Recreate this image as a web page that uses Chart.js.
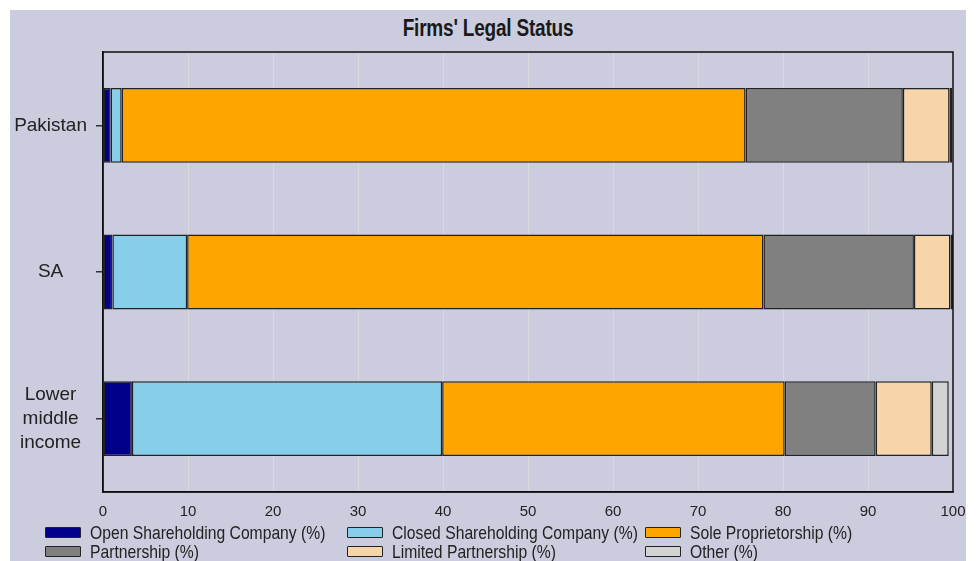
<!DOCTYPE html>
<html>
<head>
<meta charset="utf-8">
<script src="https://cdn.jsdelivr.net/npm/chart.js@4"></script>
<style>
  html, body { margin: 0; padding: 0; background: #ffffff; width: 976px; height: 561px; overflow: hidden; }
  #panel { position: absolute; left: 10px; top: 10px; width: 956px; height: 551px; background: #CBCCDE; overflow: hidden; }
  #title { position: absolute; left: 0; top: 4px; width: 956px; text-align: center;
           font-family: "Liberation Sans", Arial, sans-serif;
           font-weight: bold; font-size: 19px; color: #1a1a1a; line-height: 28px;
           transform: scaleY(1.25); transform-origin: center center; letter-spacing: -0.2px; }
  #wrap { position: absolute; left: 0; top: 0; width: 956px; height: 525px; }
  .leg { position: absolute; font-family: "Liberation Sans", Arial, sans-serif;
         font-size: 15.7px; color: #222; white-space: nowrap; line-height: 20px;
         transform: scaleY(1.2); transform-origin: left center; }
  .box { position: absolute; width: 34px; height: 9px; border: 1.5px solid #222; border-radius: 1px; }
</style>
</head>
<body>
<div id="panel">
  <div id="title">Firms' Legal Status</div>
  <div id="wrap"><canvas id="c"></canvas></div>
  <div id="legend"></div>
</div>
<script>
// ---- data ----
const categories = ['Pakistan', 'SA', ['Lower', 'middle', 'income']];
const seriesNames = [
  'Open Shareholding Company (%)',
  'Closed Shareholding Company (%)',
  'Sole Proprietorship  (%)',
  'Partnership  (%)',
  'Limited Partnership (%)',
  'Other  (%)'
];
const openShareholding   = [0.9, 1.1, 3.4];
const closedShareholding = [1.3, 8.8, 36.5];
const soleProprietorship = [73.4, 67.8, 40.3];
const partnership        = [18.5, 17.7, 10.7];
const limitedPartnership = [5.5, 4.3, 6.6];
const otherStatus        = [0.3, 0.3, 2.0];
const xTicks = [0, 10, 20, 30, 40, 50, 60, 70, 80, 90, 100];

const seriesValues = [openShareholding, closedShareholding, soleProprietorship,
                      partnership, limitedPartnership, otherStatus];
const seriesColors = ['#00008B', '#87CEEB', '#FFA500', '#808080', '#F8D5A8', '#D3D3D3'];

const FONT = '"Liberation Sans", Arial, sans-serif';

const datasets = seriesValues.map((vals, i) => ({
  label: seriesNames[i],
  data: vals,
  backgroundColor: seriesColors[i],
  borderColor: '#222222',
  borderWidth: 1.5,
  borderSkipped: false,
  barPercentage: 0.51,
  categoryPercentage: 1.0
}));

const framePlugin = {
  id: 'frame',
  afterDatasetsDraw(chart) {
    const a = chart.chartArea, ctx = chart.ctx;
    ctx.save();
    ctx.strokeStyle = '#111111';
    ctx.lineWidth = 1.5;
    ctx.strokeRect(a.left, a.top, a.right - a.left, a.bottom - a.top);
    ctx.restore();
  }
};

new Chart(document.getElementById('c'), {
  type: 'bar',
  data: { labels: categories, datasets: datasets },
  options: {
    indexAxis: 'y',
    responsive: true,
    maintainAspectRatio: false,
    animation: false,
    layout: { padding: { top: 42, right: 13, bottom: 13, left: 0 } },
    plugins: { legend: { display: false }, title: { display: false }, tooltip: { enabled: false } },
    scales: {
      x: {
        stacked: true,
        min: 0, max: 100,
        afterBuildTicks: (s) => { s.ticks = xTicks.map(v => ({ value: v })); },
        afterFit: (s) => { s.height = 30; s.paddingLeft = 0; s.paddingRight = 0; },
        grid: { color: '#D8D8DE', lineWidth: 1, drawTicks: false },
        border: { display: true, color: '#111111', width: 1.5 },
        ticks: { font: { family: FONT, size: 15 }, color: '#222', padding: 11, maxRotation: 0, autoSkip: false }
      },
      y: {
        stacked: true,
        afterFit: (s) => { s.width = 93; s.paddingTop = 0; s.paddingBottom = 0; },
        grid: { offset: false, drawOnChartArea: false, drawTicks: true, tickLength: 7, color: '#333333', lineWidth: 1.5 },
        border: { display: true, color: '#111111', width: 1.5 },
        ticks: { font: { family: FONT, size: 19, lineHeight: 1.26 }, color: '#222', padding: 9, crossAlign: 'center' }
      }
    }
  },
  plugins: [framePlugin]
});

// ---- HTML legend (3 columns x 2 rows) ----
const legendCols = [35, 337, 635];   // box left, panel coords
const legendRows = [517, 536];       // box top, panel coords
const legend = document.getElementById('legend');
seriesNames.forEach((name, i) => {
  const col = i % 3, row = Math.floor(i / 3);
  const b = document.createElement('div');
  b.className = 'box';
  b.style.left = legendCols[col] + 'px';
  b.style.top = legendRows[row] + 'px';
  b.style.background = seriesColors[i];
  legend.appendChild(b);
  const t = document.createElement('div');
  t.className = 'leg';
  t.textContent = name;
  t.style.left = (legendCols[col] + 45) + 'px';
  t.style.top = (legendRows[row] - 4) + 'px';
  legend.appendChild(t);
});
</script>
</body>
</html>
